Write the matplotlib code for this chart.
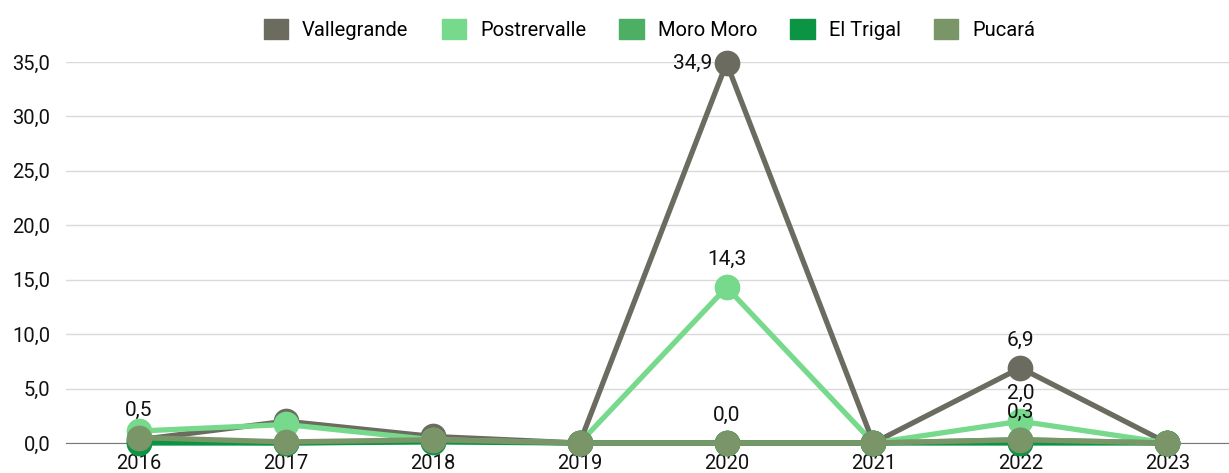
import matplotlib.pyplot as plt
from matplotlib.patches import Patch

plt.rcParams['font.family'] = ['Roboto', 'DejaVu Sans']

years = ["2016", "2017", "2018", "2019", "2020", "2021", "2022", "2023"]
vallegrande = [0.3, 2.0, 0.6, 0.0, 34.9, 0.0, 6.9, 0.0]
postrervalle = [1.1, 1.7, 0.3, 0.0, 14.3, 0.0, 2.0, 0.0]
moro_moro = [0.2, 0.0, 0.2, 0.0, 0.0, 0.0, 0.3, 0.0]
el_trigal = [0.0, 0.0, 0.1, 0.0, 0.0, 0.0, 0.0, 0.0]
pucara = [0.5, 0.1, 0.3, 0.0, 0.0, 0.0, 0.3, 0.0]

series = {
    "Vallegrande": (vallegrande, "#6b6b60"),
    "Postrervalle": (postrervalle, "#77d98b"),
    "Moro Moro": (moro_moro, "#4caf63"),
    "El Trigal": (el_trigal, "#0b9444"),
    "Pucará": (pucara, "#7a9669"),
}

# which points carry a value label: (series, year index)
labelled = [("Vallegrande", 4), ("Vallegrande", 6),
            ("Postrervalle", 4), ("Postrervalle", 6),
            ("Pucará", 0), ("Pucará", 4), ("Pucará", 6)]

fig = plt.figure(figsize=(12.29, 4.73), dpi=100)
ax = fig.add_axes([65.5 / 1229, 30 / 473, (1229 - 65.5) / 1229, 381 / 473])

x = list(range(len(years)))
for name, (vals, col) in series.items():
    ax.plot(x, vals, color=col, lw=3.8, marker="o", ms=17.5, clip_on=False,
            solid_joinstyle="miter", zorder=3)

for name, i in labelled:
    v = series[name][0][i]
    txt = f"{v:.1f}".replace(".", ",")
    if v > 30:
        # top point: label sits to the left of the marker
        ax.annotate(txt, (i, v), xytext=(-10, 0), textcoords="offset points",
                    ha="right", va="center", fontsize=15, color="#111111", zorder=5)
    else:
        ax.annotate(txt, (i, v), xytext=(0, 13), textcoords="offset points",
                    ha="center", va="bottom", fontsize=15, color="#111111", zorder=5)

ax.set_xlim(-0.5, 7.42)
ax.set_ylim(0, 35)
ax.set_yticks(range(0, 36, 5))
ax.set_yticklabels([f"{v:.1f}".replace(".", ",") for v in range(0, 36, 5)])
ax.set_xticks(x)
ax.set_xticklabels(years)
ax.tick_params(length=0, labelsize=14.5, colors="#111111")
ax.tick_params(axis="y", pad=11)
ax.tick_params(axis="x", pad=8)
ax.grid(axis="y", color="#d9d9d9", lw=1)
ax.set_axisbelow(True)
for s in ["top", "right", "left"]:
    ax.spines[s].set_visible(False)
ax.spines["bottom"].set_color("#777777")

handles = [Patch(facecolor=c, edgecolor=c, label=n) for n, (v, c) in series.items()]
fig.legend(handles=handles, loc="center", bbox_to_anchor=(0.5285, 0.938), ncol=5,
           frameon=False, fontsize=14.5, handlelength=1.2, handleheight=1.2,
           columnspacing=1.65, handletextpad=0.7)

fig.savefig("out.png", dpi=100)
